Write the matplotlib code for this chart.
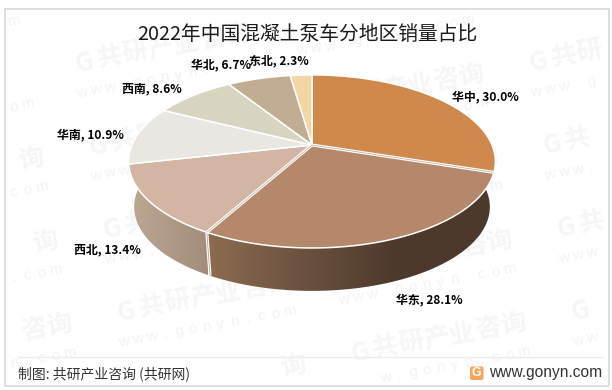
import numpy as np
import matplotlib
matplotlib.use("Agg")
import matplotlib.pyplot as plt
from matplotlib.patches import Polygon, Rectangle, FancyBboxPatch
from matplotlib.colors import LinearSegmentedColormap

CJK = ['Noto Sans CJK SC', 'DejaVu Sans']
plt.rcParams['font.family'] = CJK

title = '2022年中国混凝土泵车分地区销量占比'
categories = ['华中', '华东', '西北', '华南', '西南', '华北', '东北']
values = [30.0, 28.1, 13.4, 10.9, 8.6, 6.7, 2.3]
top_colors = ['#D0894D', '#B5886B', '#D2B6A3', '#EAE6E2', '#D7D4C0', '#C0AD92', '#F2D7A5']
label_pos = [(485, 97), (429, 300), (107, 250), (90, 135), (152, 89), (221, 65), (279, 61)]

CX, CY, R, S, K = 312, 145, 180, 83.4, 0.19
DROP, SHRINK = 46, 0.97


def project(theta, lower=False):
    th = np.radians(theta)
    u, v = np.sin(th), np.cos(th)
    f = SHRINK if lower else 1.0
    d = DROP if lower else 0.0
    w = 1 + K * v
    return CX + f * R * u / w, CY + d - f * S * v / w


def arc(a, b, lower=False):
    x, y = project(np.linspace(a, b, 200), lower)
    return np.column_stack([x, y])


fig = plt.figure(figsize=(6.12, 3.9), dpi=100, facecolor='white')
ax = fig.add_axes([0, 0, 1, 1])
ax.set_xlim(0, 612)
ax.set_ylim(390, 0)
ax.axis('off')

frame = Rectangle((4.5, 8.5), 604.5, 377, fc='white', ec='#d9d9d9', lw=1.2, zorder=0)
ax.add_patch(frame)

# watermark lattice: glyph by glyph, keeping only those that lie wholly inside the frame
ANG = 10.5
cos_a, sin_a = np.cos(np.radians(ANG)), np.sin(np.radians(ANG))


def spaced(s, x, y, step, margin, **kw):
    for n, ch in enumerate(s):
        px = x + n * step * cos_a
        py = y - n * step * sin_a
        if ch != ' ' and 6 + margin < px < 607 - margin and 10 + margin < py < 384 - margin:
            ax.text(px, py, ch, rotation=ANG, rotation_mode='anchor', ha='center', va='center',
                    zorder=0.5, **kw)


for i in range(-3, 4):
    for j in range(-4, 3):
        gx = 346 + 220 * i + 14 * j
        gy = 270 - 42 * i + 83 * j
        spaced('G共研产业咨询', gx, gy, 26, 14, fontsize=18.5, fontweight='bold', color='#f6f6f6')
        spaced('www.gonyn.com', gx - 2, gy + 30, 14, 5, fontsize=11, color='#f3f3f3',
               family='Liberation Sans')

edges = np.concatenate([[0], np.cumsum(values)]) / sum(values) * 360

# side wall, drawn from the front slices' angles
side_maps = {
    1: LinearSegmentedColormap.from_list('e', ['#8E6C50', '#6B5240', '#4C392B', '#4C392B']),
    2: LinearSegmentedColormap.from_list('n', ['#BFA995', '#A08D7B']),
}
spans = {1: (edges[1] - 22, edges[2]), 2: (edges[2], edges[3] + 20)}
grad_x = {1: (205, 495), 2: (125, 208)}
for idx, (a, b) in spans.items():
    top = arc(a, b)
    low = arc(b, a, lower=True)
    poly = Polygon(np.vstack([top, low]), closed=True, fc='none', ec='none', zorder=1)
    ax.add_patch(poly)
    x0, x1 = grad_x[idx]
    g = np.linspace(0, 1, 256)[None, :]
    im = ax.imshow(g, extent=[x0, x1, 300, 140], cmap=side_maps[idx], aspect='auto', zorder=1)
    im.set_clip_path(poly)
ax.set_xlim(0, 612)
ax.set_ylim(390, 0)

# seam on the side wall
xt, yt = project(edges[2])
xb, yb = project(edges[2], lower=True)
ax.plot([xt, xb], [yt, yb], color='white', lw=2.2, zorder=2, solid_capstyle='butt')
ax.plot([xt, xb], [yt, yb], color='#b7a797', lw=0.6, zorder=2.1, solid_capstyle='butt')

# top surface
for i, c in enumerate(top_colors):
    pts = np.vstack([[CX, CY], arc(edges[i], edges[i + 1])])
    ax.add_patch(Polygon(pts, closed=True, fc=c, ec='white', lw=1.1, joinstyle='round', zorder=3))

# double seams around the 华东 slice
for e in (edges[1], edges[2]):
    x, y = project(e)
    ax.plot([CX, x], [CY, y], color='white', lw=2.2, zorder=4, solid_capstyle='butt')
    ax.plot([CX, x], [CY, y], color='#c8b5a5', lw=0.6, zorder=4.1, solid_capstyle='butt')

# labels
for c, v, (lx, ly) in zip(categories, values, label_pos):
    ax.text(lx, ly, f'{c}, {v:.1f}%', fontsize=8.6, fontweight='bold', color='black',
            ha='center', va='center', zorder=6)

ax.text(307, 35, title, fontsize=14.2, color='#1a1a1a', ha='center', va='center', zorder=6)

# footer
ax.plot([18, 602], [357, 357], color='#ececec', lw=1, zorder=5)
ax.text(18, 374, '制图: 共研产业咨询 (共研网)', fontsize=10, color='#333333', ha='left', va='center', zorder=6)
ax.text(602, 373, 'www.gonyn.com', fontsize=11.2, color='#333333', ha='right', va='center',
        family='Liberation Sans', zorder=6)
ax.add_patch(FancyBboxPatch((471.5, 368), 10.5, 10.5, boxstyle='round,pad=1.5,rounding_size=2',
                            fc='#F6A65C', ec='none', zorder=6))
ax.text(476.8, 373.2, 'G', fontsize=9, fontweight='bold', color='white', ha='center', va='center',
        family='Liberation Sans', zorder=7)

fig.savefig('out.png', dpi=100, facecolor='white')
